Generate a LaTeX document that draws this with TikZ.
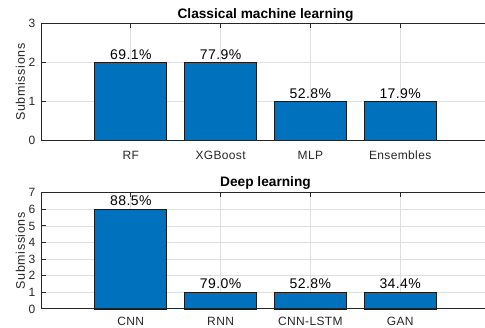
\documentclass[tikz,border=0pt]{standalone}
\usepackage{fontspec}
\setmainfont{Liberation Sans}
\definecolor{barblue}{RGB}{0,114,189}
\definecolor{axisgray}{RGB}{38,38,38}
\definecolor{gridgray}{RGB}{223,223,223}
\definecolor{edgegray}{RGB}{25,25,25}

\tikzset{
  bar/.style={fill=barblue, draw=edgegray, line width=0.9pt},
  gridline/.style={draw=gridgray, line width=0.8pt},
  axisline/.style={draw=axisgray, line width=1pt},
  ticklabel/.style={inner sep=0pt, text=axisgray,
    font=\fontsize{12}{14}\selectfont\addfontfeature{LetterSpace=3}},
  vallabel/.style={inner sep=0pt, anchor=base, text=black,
    font=\fontsize{14}{16}\selectfont\addfontfeature{LetterSpace=3}},
  axtitle/.style={inner sep=0pt, anchor=base, text=black,
    font=\fontsize{13.7}{16}\selectfont\bfseries},
  ylab/.style={inner sep=0pt, rotate=90, text=axisgray,
    font=\fontsize{12.5}{14}\selectfont\addfontfeature{LetterSpace=5}},
}

\begin{document}
\begin{tikzpicture}[x=1pt, y=-1pt]
\useasboundingbox (0,0) rectangle (485,328);
\clip (0,0) rectangle (485,328);

% ---------- upper axes: classical machine learning ----------
% x(d) = 41 + 89.8 d,  y(v) = 140.7 - 39.07 v
\foreach \i in {1,...,4}
  \draw[gridline] ({41+89.8*\i},23.5) -- ({41+89.8*\i},140.7);
\foreach \v in {1,2}
  \draw[gridline] (41,{140.7-39.07*\v}) -- (490,{140.7-39.07*\v});

\foreach \lab/\v/\p [count=\i] in {RF/2/69.1, XGBoost/2/77.9, MLP/1/52.8, Ensembles/1/17.9} {
  \pgfmathsetmacro\cx{41+89.8*\i}
  \pgfmathsetmacro\ty{140.7-39.07*\v}
  \draw[bar] (\cx-35.9,140.7) rectangle (\cx+35.9,\ty);
  \node[vallabel] (topval\i) at (\cx,\ty-3.2) {\p\%};
  \node[ticklabel, anchor=base] (toptick\i) at (\cx,160) {\lab};
  \draw[axisline] (\cx,23.5) -- (\cx,28);
}
\draw[axisline] (41,23.5) rectangle (490,140.7);
\foreach \v in {0,...,3} {
  \draw[axisline] (41,{140.7-39.07*\v}) -- (45.5,{140.7-39.07*\v});
  \node[ticklabel, anchor=east] (topy\v) at (35.5,{140.7-39.07*\v}) {\v};
}
\node[ylab] (topylabel) at (20.5,82) {Submissions};
\node[axtitle] (toptitle) at (265.5,18.3) {Classical machine learning};

% ---------- lower axes: deep learning ----------
% x(d) = 41 + 89.8 d,  y(v) = 309 - 16.61 v
\foreach \i in {1,...,4}
  \draw[gridline] ({41+89.8*\i},192.7) -- ({41+89.8*\i},309);
\foreach \v in {1,...,6}
  \draw[gridline] (41,{309-16.61*\v}) -- (490,{309-16.61*\v});

\foreach \lab/\v/\p [count=\i] in {CNN/6/88.5, RNN/1/79.0, CNN-LSTM/1/52.8, GAN/1/34.4} {
  \pgfmathsetmacro\cx{41+89.8*\i}
  \pgfmathsetmacro\ty{309-16.61*\v}
  \draw[bar] (\cx-35.9,309) rectangle (\cx+35.9,\ty);
  \node[vallabel] (botval\i) at (\cx,\ty-3.4) {\p\%};
  \node[ticklabel, anchor=base] (bottick\i) at (\cx,326) {\lab};
  \draw[axisline] (\cx,192.7) -- (\cx,197.2);
}
\draw[axisline] (41,192.7) rectangle (490,309);
\foreach \v in {0,...,7} {
  \draw[axisline] (41,{309-16.61*\v}) -- (45.5,{309-16.61*\v});
  \node[ticklabel, anchor=east] (boty\v) at (35.5,{309-16.61*\v}) {\v};
}
\node[ylab] (botylabel) at (20.5,250.8) {Submissions};
\node[axtitle] (bottitle) at (265.5,186.6) {Deep learning};
\end{tikzpicture}
\end{document}
